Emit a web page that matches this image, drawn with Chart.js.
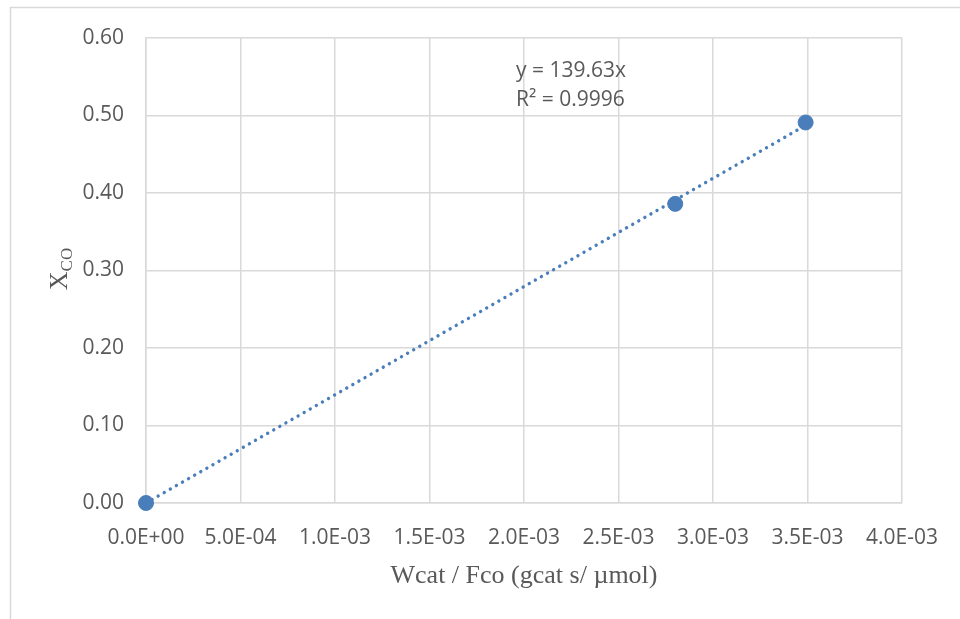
<!DOCTYPE html>
<html>
<head>
<meta charset="utf-8">
<style>
  html, body { margin: 0; padding: 0; background: #ffffff; }
  #wrap { width: 960px; height: 619px; position: relative; }
</style>
<script src="https://cdn.jsdelivr.net/npm/chart.js@4.4.1/dist/chart.umd.min.js"></script>
</head>
<body>
<div id="wrap"><canvas id="c" width="960" height="619"></canvas></div>
<script>
// Measured points: catalyst contact time vs CO conversion
const contactTime = [0, 0.0028, 0.00349];
const conversion = [0, 0.386, 0.491];

// Linear fit through the origin
const fitSlope = 139.63;
const fitR2 = '0.9996';
const fitX = [0, 0.00349];

// Axis tick labels
const xTickLabels = ['0.0E+00', '5.0E-04', '1.0E-03', '1.5E-03', '2.0E-03', '2.5E-03', '3.0E-03', '3.5E-03', '4.0E-03'];
const yTickLabels = ['0.00', '0.10', '0.20', '0.30', '0.40', '0.50', '0.60'];

const blue = '#4a7ebb';
const textGrey = '#595959';
const gridGrey = '#d9d9d9';
const tickFont = { family: '"Open Sans", sans-serif', size: 21 };

const pointData = contactTime.map((x, i) => ({ x: x, y: conversion[i] }));
const fitData = fitX.map(x => ({ x: x, y: fitSlope * x }));

// Outer frame, equation text and the axis titles (the y title needs a subscript)
const decorations = {
  id: 'decorations',
  beforeDraw(chart) {
    const ctx = chart.ctx;
    ctx.save();
    ctx.fillStyle = '#ffffff';
    ctx.fillRect(0, 0, chart.width, chart.height);
    ctx.strokeStyle = gridGrey;
    ctx.lineWidth = 1.5;
    ctx.strokeRect(10.5, 7.5, 1200, 1200);
    ctx.restore();
  },
  afterDraw(chart) {
    const ctx = chart.ctx;
    const area = chart.chartArea;
    ctx.save();
    ctx.fillStyle = textGrey;
    ctx.font = '21px "Open Sans", sans-serif';
    ctx.textAlign = 'left';
    ctx.textBaseline = 'middle';
    ctx.fillText('y = ' + fitSlope.toFixed(2) + 'x', 516, 71);
    ctx.fillText('R² = ' + fitR2, 516, 100);

    // x-axis title
    ctx.textAlign = 'center';
    ctx.font = '26px "Liberation Serif", serif';
    ctx.fillText('Wcat / Fco (gcat s/ µmol)', (area.left + area.right) / 2, 576);

    // y-axis title: X with subscript CO
    ctx.textAlign = 'left';
    ctx.translate(59, 269);
    ctx.rotate(-Math.PI / 2);
    ctx.font = '26px "Liberation Serif", serif';
    const wX = ctx.measureText('X').width;
    ctx.font = '17px "Liberation Serif", serif';
    const wSub = ctx.measureText('CO').width;
    const start = -(wX + wSub) / 2;
    ctx.textBaseline = 'alphabetic';
    ctx.font = '26px "Liberation Serif", serif';
    ctx.fillText('X', start, 8);
    ctx.font = '17px "Liberation Serif", serif';
    ctx.fillText('CO', start + wX, 13);
    ctx.restore();
  }
};

new Chart(document.getElementById('c'), {
  type: 'scatter',
  data: {
    datasets: [
      {
        label: 'Linear fit',
        type: 'line',
        data: fitData,
        borderColor: blue,
        borderWidth: 3.4,
        borderCapStyle: 'round',
        borderDash: [0.01, 7],
        pointRadius: 0,
        fill: false,
        clip: false,
        order: 2
      },
      {
        label: 'X_CO',
        data: pointData,
        backgroundColor: blue,
        borderColor: blue,
        pointRadius: 7.5,
        pointHoverRadius: 7.5,
        clip: false,
        order: 1
      }
    ]
  },
  options: {
    responsive: false,
    animation: false,
    events: [],
    layout: { padding: { top: 38, right: 54, left: 0, bottom: 0 } },
    plugins: {
      legend: { display: false },
      tooltip: { enabled: false }
    },
    scales: {
      x: {
        type: 'linear',
        min: 0,
        max: 0.004,
        afterFit(scale) { scale.height = 116; },
        afterBuildTicks(scale) {
          scale.ticks = xTickLabels.map((_, i) => ({ value: i * 0.0005 }));
        },
        ticks: {
          color: textGrey,
          font: tickFont,
          padding: 22,
          maxRotation: 0,
          autoSkip: false,
          callback: (v, i) => xTickLabels[i]
        },
        grid: { color: gridGrey, lineWidth: 1.5, drawTicks: false },
        border: { color: gridGrey, width: 1.5 }
      },
      y: {
        type: 'linear',
        min: 0,
        max: 0.6,
        afterFit(scale) { scale.width = 146; },
        afterBuildTicks(scale) {
          scale.ticks = yTickLabels.map((_, i) => ({ value: i * 0.1 }));
        },
        ticks: {
          color: textGrey,
          font: tickFont,
          padding: 22,
          autoSkip: false,
          callback: (v, i) => yTickLabels[i]
        },
        grid: { color: gridGrey, lineWidth: 1.5, drawTicks: false },
        border: { color: gridGrey, width: 1.5 }
      }
    }
  },
  plugins: [decorations]
});
</script>
</body>
</html>
